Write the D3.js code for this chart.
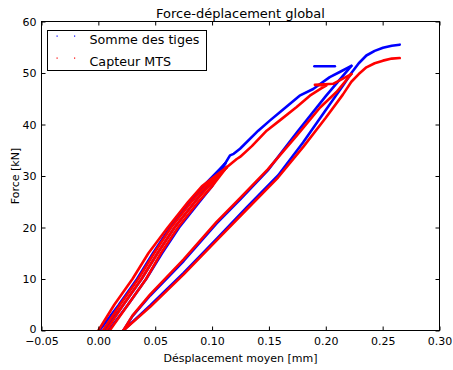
<!DOCTYPE html>
<html>
<head>
<meta charset="utf-8">
<script src="https://cdn.jsdelivr.net/npm/d3@7"></script>
<style>
  body { margin: 0; background: #fff; }
  svg { display: block; font-family: "DejaVu Sans", sans-serif; }
</style>
</head>
<body>
<svg id="chart" width="453" height="370"></svg>
<script>
// ---- Data (displacement [mm], force [kN]) ----
const xTicks = [-0.05, 0.00, 0.05, 0.10, 0.15, 0.20, 0.25, 0.30];
const yTicks = [0, 10, 20, 30, 40, 50, 60];
const seriesNames = ["Somme des tiges", "Capteur MTS"];

// Somme des tiges (blue)
const blueCycle1 = [[0.001,0],[0.018,5],[0.034,10],[0.048,15],[0.063,20],[0.081,25],[0.092,28],[0.1114,32.4]];
const blueCycle2 = [[0.005,0],[0.022,5],[0.038,10],[0.052,15],[0.067,20],[0.085,25],[0.096,28],[0.1114,32.4]];
const blueCycle3 = [[0.009,0],[0.026,5],[0.042,10],[0.056,15],[0.071,20],[0.089,25],[0.100,28],[0.1114,32.4]];
const blueLoading = [[0.1114,32.4],[0.1158,34.0],[0.119,34.3],[0.1246,35.3],[0.1406,38.8],[0.151,40.8],[0.1596,42.4],[0.177,45.6],[0.1889,46.9],[0.2035,49.2],[0.2123,50.2],[0.2225,51.4]];
const blueUnload = [[0.2225,51.4],[0.2,45.5],[0.175,38.6],[0.149,31.1],[0.125,25.5],[0.104,20.8],[0.075,13.5],[0.0456,6.8],[0.03,2.8],[0.022,0]];
const blueReload = [[0.022,0],[0.0456,4.85],[0.075,11.2],[0.104,17.8],[0.13,23.8],[0.158,30.1],[0.18,36.5],[0.2,42.8],[0.215,47.5],[0.2225,50.0],[0.229,51.9],[0.2357,53.4],[0.243,54.3],[0.2503,54.9],[0.258,55.3],[0.265,55.5]];
const blueStub = [[0.190,51.3],[0.208,51.3]];

// Capteur MTS (red)
const redCycle1 = [[0.0,0],[0.014,5],[0.030,10],[0.044,15],[0.061,20],[0.079,25],[0.091,28],[0.1129,31.7]];
const redCycle2 = [[0.004,0],[0.019,5],[0.035,10],[0.049,15],[0.064,20],[0.082,25],[0.094,28],[0.1129,31.7]];
const redCycle3 = [[0.007,0],[0.022,5],[0.038,10],[0.052,15],[0.067,20],[0.085,25],[0.097,28],[0.1129,31.7]];
const redCycle4 = [[0.010,0],[0.026,5],[0.042,10],[0.055,15],[0.070,20],[0.088,25],[0.100,28],[0.1129,31.7]];
const redLoading = [[0.1129,31.7],[0.1217,33.3],[0.1246,33.7],[0.135,35.8],[0.148,38.8],[0.1596,40.8],[0.1744,43.4],[0.186,45.6],[0.196,47.0],[0.2006,47.6],[0.1904,47.7],[0.2064,47.9],[0.2225,49.8]];
const redUnload = [[0.2225,49.8],[0.2094,46.3],[0.195,43.3],[0.175,38.0],[0.149,31.3],[0.125,25.8],[0.104,21.1],[0.075,13.8],[0.0456,7.0],[0.03,2.9],[0.022,0]];
const redReload = [[0.022,0],[0.0456,4.6],[0.075,10.9],[0.104,17.5],[0.13,23.4],[0.158,29.7],[0.18,35.6],[0.2,41.3],[0.215,45.8],[0.2225,48.3],[0.229,49.8],[0.2357,51.1],[0.243,51.9],[0.2503,52.4],[0.258,52.8],[0.265,52.9]];

const blueSegments = [blueCycle1, blueCycle2, blueCycle3, blueLoading, blueUnload, blueReload, blueStub];
const redSegments = [redCycle1, redCycle2, redCycle3, redCycle4, redLoading, redUnload, redReload];

// ---- Layout ----
const svg = d3.select("#chart");
const L = 41.5, R = 439.5, T = 21.5, B = 330.5;
const x = d3.scaleLinear().domain([-0.05, 0.30]).range([L, R]);
const y = d3.scaleLinear().domain([0, 60]).range([B, T]);

svg.append("defs").append("clipPath").attr("id", "plotclip")
  .append("rect").attr("x", L).attr("y", T).attr("width", R - L).attr("height", B - T);

const line = d3.line().x(d => x(d[0])).y(d => y(d[1]));
const plot = svg.append("g").attr("clip-path", "url(#plotclip)");

function drawSeries(segs, cls, color) {
  plot.selectAll("path." + cls).data(segs).join("path")
    .attr("class", cls).attr("d", line)
    .attr("fill", "none").attr("stroke", color).attr("stroke-width", 2.6)
    .attr("stroke-linejoin", "round").attr("stroke-linecap", "round");
}
drawSeries(blueSegments, "blue", "#0000ff");
drawSeries(redSegments, "red", "#ff0000");

// ---- Axes ----
const fmtX = d3.format(".2f");
const gx = svg.append("g").attr("transform", `translate(0,${B})`)
  .call(d3.axisBottom(x).tickValues(xTicks).tickFormat(fmtX).tickSizeInner(-4).tickSizeOuter(0).tickPadding(7));
const gxt = svg.append("g").attr("transform", `translate(0,${T})`)
  .call(d3.axisTop(x).tickValues(xTicks).tickFormat("").tickSizeInner(-4).tickSizeOuter(0));
const gy = svg.append("g").attr("transform", `translate(${L},0)`)
  .call(d3.axisLeft(y).tickValues(yTicks).tickFormat(d3.format("d")).tickSizeInner(-4).tickSizeOuter(0).tickPadding(5));
const gyr = svg.append("g").attr("transform", `translate(${R},0)`)
  .call(d3.axisRight(y).tickValues(yTicks).tickFormat("").tickSizeInner(-4).tickSizeOuter(0));

[gx, gxt, gy, gyr].forEach(g => {
  g.select(".domain").remove();
  g.selectAll("line").attr("stroke", "#000").attr("stroke-width", 1);
  g.selectAll("text").attr("fill", "#000").style("font-size", "11px").style("font-family", "DejaVu Sans, sans-serif");
});
gy.selectAll(".tick").filter(d => d === 0).select("text").attr("dy", "0.2em");

svg.append("rect").attr("x", L).attr("y", T).attr("width", R - L).attr("height", B - T)
  .attr("fill", "none").attr("stroke", "#000").attr("stroke-width", 1);

// ---- Titles ----
svg.append("text").attr("x", (L + R) / 2).attr("y", 17.5).attr("text-anchor", "middle")
  .style("font-size", "13px").text("Force-déplacement global");
svg.append("text").attr("x", (L + R) / 2).attr("y", 362).attr("text-anchor", "middle")
  .style("font-size", "11px").text("Désplacement moyen [mm]");
svg.append("text").attr("transform", `translate(19,${(T + B) / 2}) rotate(-90)`).attr("text-anchor", "middle")
  .style("font-size", "11px").text("Force [kN]");

// ---- Legend ----
const lg = svg.append("g");
lg.append("rect").attr("x", 47.5).attr("y", 30.5).attr("width", 159).attr("height", 40)
  .attr("fill", "#fff").attr("stroke", "#000").attr("stroke-width", 1);
const legendColors = ["#0000ff", "#ff0000"];
seriesNames.forEach((name, i) => {
  const cy = 36 + i * 22;
  [57, 74.5].forEach(cx => {
    lg.append("rect").attr("x", cx - 0.5).attr("y", cy - 0.5).attr("width", 1.2).attr("height", 1.2)
      .attr("fill", legendColors[i]);
  });
  lg.append("text").attr("x", 89.5).attr("y", cy + 7.5)
    .style("font-size", "12.7px").text(name);
});
</script>
</body>
</html>
